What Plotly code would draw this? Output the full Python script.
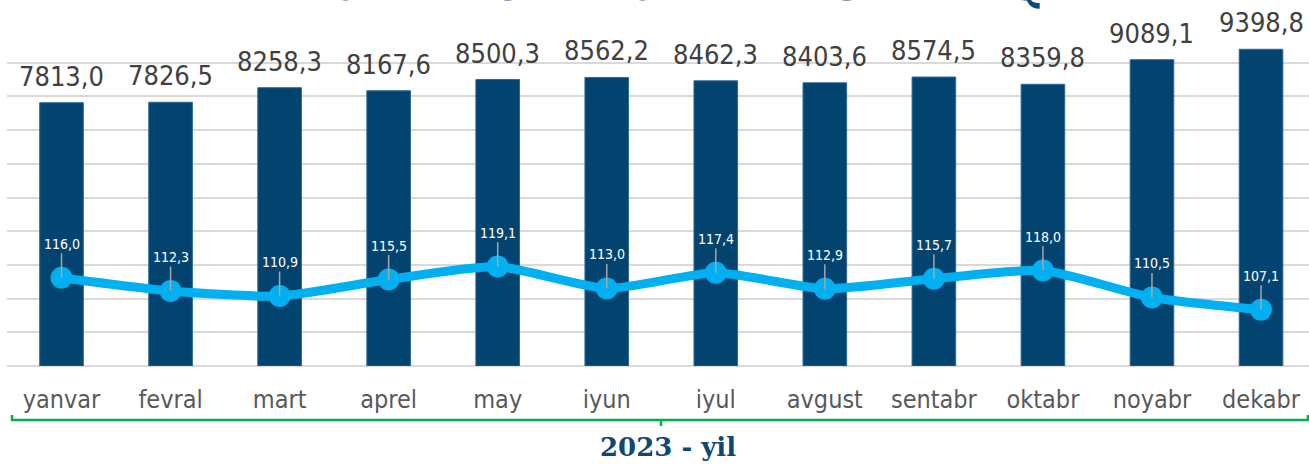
import plotly.graph_objects as go

months = ["yanvar", "fevral", "mart", "aprel", "may", "iyun",
          "iyul", "avgust", "sentabr", "oktabr", "noyabr", "dekabr"]
salary = [7813.0, 7826.5, 8258.3, 8167.6, 8500.3, 8562.2,
          8462.3, 8403.6, 8574.5, 8359.8, 9089.1, 9398.8]
real_index = [116.0, 112.3, 110.9, 115.5, 119.1, 113.0,
              117.4, 112.9, 115.7, 118.0, 110.5, 107.1]

title_text = "O'RTACHA OYLIK ISH HAQI"
period_text = "2023 - yil"

W, H = 1309, 465
M_L, M_R, M_T, M_B = 7, 0, 29, 99
PLOT_W = W - M_L - M_R
PLOT_H = H - M_T - M_B

BAR_COLOR = "#02446F"
LINE_COLOR = "#00B0F0"
DARK_BLUE = "#0F4775"
GREEN = "#00B050"
SANS = "DejaVu Sans Condensed, DejaVu Sans, sans-serif"
SERIF = "DejaVu Serif, Liberation Serif, serif"


def fmt(v):
    return f"{v:.1f}".replace(".", ",")


def px(x, y):
    """pixel position -> paper coordinates"""
    return (x - M_L) / PLOT_W, (H - M_B - y) / PLOT_H


fig = go.Figure()

fig.add_trace(go.Bar(
    x=months, y=salary, marker=dict(color=BAR_COLOR, line=dict(color="#2C6A96", width=1)),
    hoverinfo="skip",
))
fig.add_trace(go.Scatter(
    x=months, y=real_index, yaxis="y2", mode="lines+markers",
    line=dict(color=LINE_COLOR, width=9, shape="spline", smoothing=0.6),
    marker=dict(color=LINE_COLOR, size=22),
    hoverinfo="skip",
))

annotations = []
for m, v in zip(months, salary):
    annotations.append(dict(
        x=m, y=v, xref="x", yref="y", text=fmt(v), showarrow=False,
        yanchor="bottom", yshift=9,
        font=dict(family=SANS, size=27, color="#404040"),
    ))
for m, v in zip(months, real_index):
    annotations.append(dict(
        x=m, y=v, xref="x", yref="y2", text=fmt(v), showarrow=True,
        ax=0, ay=-34, arrowhead=0, arrowwidth=1.5, arrowcolor="#A6A6A6",
        standoff=0, startstandoff=0,
        font=dict(family=SANS, size=14, color="white"),
    ))

# cut-off title above the chart
annotations.append(dict(
    x=px(697, 0)[0], y=1, xref="paper", yref="paper", text=f"<b>{title_text}</b>",
    showarrow=False, yanchor="bottom", yshift=16,
    font=dict(family=SERIF, size=47, color=DARK_BLUE),
))
# period label under the bracket
annotations.append(dict(
    x=px(668, 0)[0], y=px(0, 447)[1], xref="paper", yref="paper",
    text=f"<b>{period_text}</b>", showarrow=False, yanchor="middle",
    font=dict(family=SERIF, size=26, color=DARK_BLUE),
))

# green bracket
x0, yb = px(12, 420)
x1, yt = px(1308, 415)
xc, yd = px(661, 426)
shapes = [
    dict(type="path", xref="paper", yref="paper",
         path=f"M {x0} {yt} L {x0} {yb} L {x1} {yb} L {x1} {yt}",
         line=dict(color=GREEN, width=2.5)),
    dict(type="line", xref="paper", yref="paper", x0=xc, x1=xc, y0=yb, y1=yd,
         line=dict(color=GREEN, width=2.5)),
]

fig.update_layout(
    width=W, height=H,
    margin=dict(l=M_L, r=M_R, t=M_T, b=M_B),
    paper_bgcolor="white", plot_bgcolor="white",
    showlegend=False, bargap=0.6,
    annotations=annotations, shapes=shapes,
    xaxis=dict(
        range=[-0.5, 11.44], showgrid=False, showline=False, ticks="",
        tickfont=dict(family=SANS, size=25, color="#595959"),
        ticklabelstandoff=16,
    ),
    yaxis=dict(
        range=[0, 10000], dtick=1000, showticklabels=False,
        gridcolor="#D9D9D9", gridwidth=1.5,
        zeroline=True, zerolinecolor="#D9D9D9", zerolinewidth=2,
    ),
    yaxis2=dict(
        range=[91.4, 185.3], overlaying="y", side="right",
        showgrid=False, showticklabels=False, zeroline=False,
    ),
)

fig.write_html(
    "out.html",
    config={"displayModeBar": False},
    post_script="document.body.style.margin = '0';",
)
